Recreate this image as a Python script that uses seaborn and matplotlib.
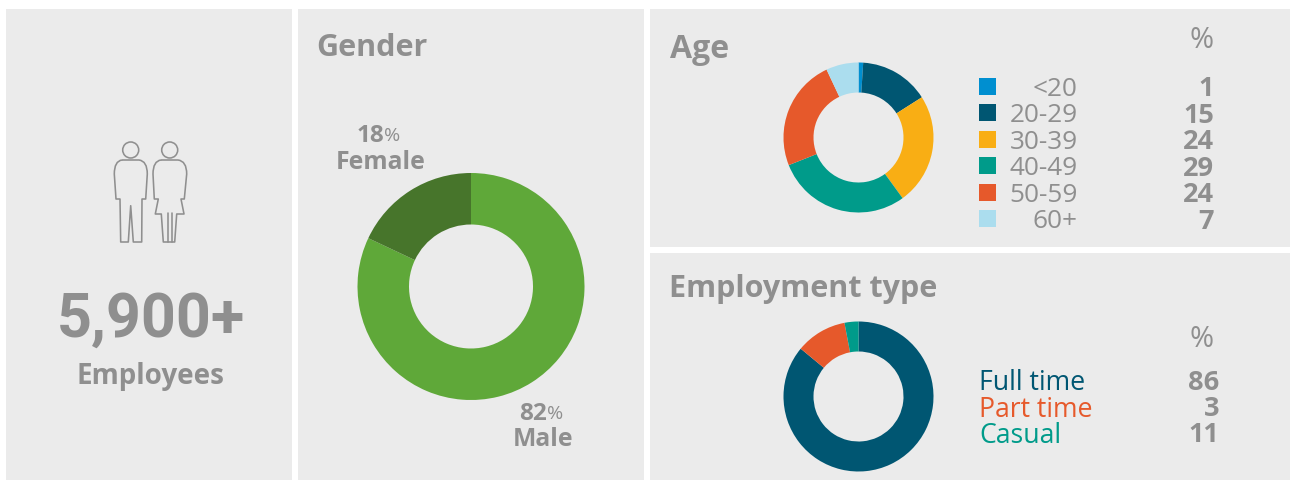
import matplotlib
matplotlib.use("Agg")
import matplotlib.pyplot as plt
from matplotlib.patches import Rectangle, Circle, PathPatch
from matplotlib.path import Path
import seaborn as sns

W, H = 1290, 481

# data
gender_labels = ["Male", "Female"]
gender_values = [82, 18]
gender_colors = ["#5FA839", "#47752B"]

age_labels = ["<20", "20-29", "30-39", "40-49", "50-59", "60+"]
age_values = [1, 15, 24, 29, 24, 7]
age_colors = ["#008FD0", "#005672", "#F9AE14", "#009B8A", "#E6592B", "#ABDDEE"]

emp_labels = ["Full time", "Part time", "Casual"]
emp_values = [86, 3, 11]
# the arcs in the picture are not in table order: orange is the big one
emp_arcs = [86, 11, 3]
emp_colors = ["#005672", "#E6592B", "#009B8A"]

total_text = "5,900+"
GREY = "#8F8F8F"
PANEL = "#EBEBEB"

sns.set_theme(style="white")
plt.rcParams["font.family"] = ["Open Sans", "DejaVu Sans"]

fig = plt.figure(figsize=(W / 100, H / 100), dpi=100, facecolor="white")

# overlay in pixel coords, top-left origin
bg = fig.add_axes([0, 0, 1, 1])
bg.set_xlim(0, W)
bg.set_ylim(H, 0)
bg.axis("off")

for x0, y0, x1, y1 in [(6, 10, 292, 481), (298, 10, 644, 481), (650, 10, 1290, 248), (650, 254, 1290, 481)]:
    bg.add_patch(Rectangle((x0, y0), x1 - x0, y1 - y0, fc=PANEL, ec="none"))


def donut(values, colors, cx, cy, r, r_in):
    ax = fig.add_axes([(cx - r) / W, 1 - (cy + r) / H, 2 * r / W, 2 * r / H])
    ax.pie(values, colors=colors, startangle=90, counterclock=False, radius=1,
           wedgeprops=dict(width=1 - r_in / r, linewidth=0))
    ax.set_xlim(-1, 1)
    ax.set_ylim(-1, 1)
    ax.patch.set_alpha(0)
    return ax


def txt(x, y, s, size, color=GREY, weight="normal", ha="left", family=None):
    bg.text(x, y, s, fontsize=size, color=color, fontweight=weight, ha=ha, va="center_baseline",
            family=family or plt.rcParams["font.family"])


donut(gender_values, gender_colors, 471, 287.5, 113.5, 62)
donut(age_values, age_colors, 858.5, 138.5, 75, 45)
donut(emp_arcs, emp_colors, 858.5, 397.5, 75, 45)

# titles
txt(316.5, 44.5, "Gender", 22, weight="bold")
txt(669.5, 45, "Age", 23, weight="bold")
txt(669, 286, "Employment type", 22, weight="bold")

# left panel
txt(150.5, 314, total_text, 44, weight="bold", ha="center", family="Roboto")
txt(150.5, 373, "Employees", 20, weight="bold", ha="center")

# gender labels
txt(384, 133, "18", 17.5, weight="bold", ha="right")
txt(384, 134, "%", 14)
txt(380.5, 160, gender_labels[1], 17.8, weight="bold", ha="center")
txt(547, 411, "82", 17.5, weight="bold", ha="right")
txt(547, 412, "%", 14)
txt(543, 437, gender_labels[0], 17.8, weight="bold", ha="center")

# age table
txt(1214, 37, "%", 21, ha="right")
age_rows = [87.5, 114, 140.5, 167, 193.5, 220]
for lab, val, col, y in zip(age_labels, age_values, age_colors, age_rows):
    bg.add_patch(Rectangle((979, y - 9), 17, 17, fc=col, ec="none"))
    txt(1077.5, y - 1, lab, 18.8, ha="right")
    txt(1214, y - 1, str(val), 19.5, weight="bold", ha="right")

# employment table
txt(1214, 336, "%", 21, ha="right")
emp_rows = [380, 406.5, 432.5]
for lab, val, col, y in zip(emp_labels, emp_values, emp_colors, emp_rows):
    txt(979, y, lab, 19.2, color=col)
    txt(1219, y, str(val), 19.5, weight="bold", ha="right")

# people icon
icon = dict(fc="none", ec=GREY, lw=1.15, joinstyle="round")
bg.add_patch(Circle((130.7, 151), 8, **icon))
bg.add_patch(Circle((169.7, 151), 8, **icon))
M, L, C = Path.MOVETO, Path.LINETO, Path.CURVE3
man = Path(
    [(122, 161), (139, 161), (147.3, 162), (147.3, 175), (145.7, 200), (142, 200), (141.7, 243), (133.3, 243),
     (130.7, 206.7), (128.3, 243), (120.7, 243), (120, 200), (116, 200), (114.3, 175), (114.3, 162), (122, 161)],
    [M, L, C, C, L, L, L, L, L, L, L, L, L, L, C, C],
)
bg.add_patch(PathPatch(man, **icon))
woman = Path(
    [(161, 161), (178, 161), (186.7, 162), (186.7, 175), (184.3, 200), (181, 200), (184, 215), (176.7, 215),
     (174.7, 243), (163.3, 243), (161.3, 215), (155.3, 215), (158.3, 200), (154.3, 200), (153, 175),
     (153, 162), (161, 161)],
    [M, L, C, C, L, L, L, L, L, L, L, L, L, L, L, C, C],
)
bg.add_patch(PathPatch(woman, **icon))
bg.plot([167.7, 167.7], [214, 243], color=GREY, lw=1.15)
bg.plot([172, 172], [214, 243], color=GREY, lw=1.15)

fig.savefig("out.png", dpi=100, facecolor="white")
